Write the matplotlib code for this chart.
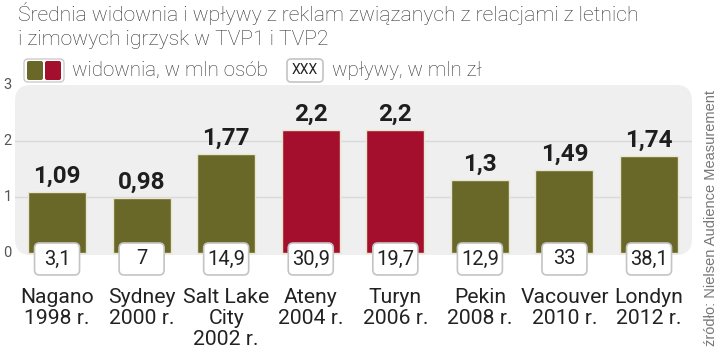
import numpy as np
import matplotlib.pyplot as plt
from matplotlib.patches import FancyBboxPatch
from matplotlib.transforms import ScaledTranslation

plt.rcParams['font.family'] = ['Roboto', 'DejaVu Sans']

categories = ['Nagano\n1998 r.', 'Sydney\n2000 r.', 'Salt Lake\nCity\n2002 r.', 'Ateny\n2004 r.',
              'Turyn\n2006 r.', 'Pekin\n2008 r.', 'Vacouver\n2010 r.', 'Londyn\n2012 r.']
audience = [1.09, 0.98, 1.77, 2.2, 2.2, 1.3, 1.49, 1.74]
audience_labels = ['1,09', '0,98', '1,77', '2,2', '2,2', '1,3', '1,49', '1,74']
revenue_labels = ['3,1', '7', '14,9', '30,9', '19,7', '12,9', '33', '38,1']
highlight = ['Ateny\n2004 r.', 'Turyn\n2006 r.']

OLIVE = '#6a6829'
RED = '#a50f2e'
BG = '#efefef'

fig = plt.figure(figsize=(7.2, 3.53), dpi=100)
W, H = 720, 353


def px(x, y):
    # pixel position from top-left -> inches from bottom-left
    return x / 100, (H - y) / 100


ax = fig.add_axes([15 / W, (H - 255) / H, (692 - 15) / W, 170 / H])
ax.set_xlim(-0.497, 7.508)
ax.set_ylim(-0.036, 3.0)
ax.patch.set_visible(False)
for s in ax.spines.values():
    s.set_visible(False)
ax.set_xticks([])
ax.set_yticks([])

# rounded grey background
x0, y0 = px(15, 255)
bg = FancyBboxPatch((x0, y0), 6.77, 1.70, boxstyle='round,pad=0,rounding_size=0.16',
                    transform=fig.dpi_scale_trans, fc=BG, ec='none', zorder=0, clip_on=False)
ax.add_patch(bg)
for g in [1, 2]:
    ax.axhline(g, color='#d9d9d9', lw=1, zorder=1)

# y tick labels
for t in range(4):
    ax.text(-0.585, t, str(t), ha='center', va='center', fontsize=10.5,
            color='#555555', clip_on=False)

xs = np.arange(len(categories))
colors = [RED if c in highlight else OLIVE for c in categories]
ax.bar(xs, audience, width=0.686, color=colors, edgecolor='#e9e6cf', lw=1, zorder=2)

for x, v, lab in zip(xs, audience, audience_labels):
    ax.annotate(lab, (x, v), xytext=(0, 6.5), textcoords='offset points', ha='center',
                va='baseline', fontsize=17.5, fontweight='bold', color='#1e1e1e', zorder=4)

# revenue boxes with fixed size
for x, lab in zip(xs, revenue_labels):
    tr = fig.dpi_scale_trans + ScaledTranslation(x, 0, ax.transData)
    box = FancyBboxPatch((-0.225, -0.22), 0.45, 0.32, boxstyle='round,pad=0,rounding_size=0.05',
                         transform=tr, fc='white', ec='#c4c4c4', lw=1.2, zorder=5, clip_on=False)
    ax.add_patch(box)
    ax.text(0, -0.06, lab, transform=tr, ha='center', va='center', fontsize=14.5,
            color='#222222', zorder=6, clip_on=False)

# category labels
for x, c in zip(xs, categories):
    tr = fig.dpi_scale_trans + ScaledTranslation(x, 0, ax.transData)
    ax.text(0, -0.35, c, transform=tr, ha='center', va='top', fontsize=15.2,
            color='#222222', linespacing=1.12, clip_on=False)

# title
fig.text(18 / W, 1 - 21 / H, 'Średnia widownia i wpływy z reklam związanych z relacjami z letnich',
         ha='left', va='baseline', fontsize=15.2, fontweight='light', color='#333333')
fig.text(18 / W, 1 - 45 / H, 'i zimowych igrzysk w TVP1 i TVP2',
         ha='left', va='baseline', fontsize=15.2, fontweight='light', color='#333333')

# legend
lx, ly = px(24, 82)
fig.patches.append(FancyBboxPatch((lx, ly), 0.40, 0.23, boxstyle='round,pad=0,rounding_size=0.04',
                                  transform=fig.dpi_scale_trans, fc='white', ec='#cccccc', lw=1))
for i, col in enumerate([OLIVE, RED]):
    sx, sy = px(27 + i * 18, 80)
    fig.patches.append(FancyBboxPatch((sx, sy), 0.16, 0.19, boxstyle='round,pad=0,rounding_size=0.02',
                                      transform=fig.dpi_scale_trans, fc=col, ec='none'))
fig.text(72 / W, 1 - 76 / H, 'widownia, w mln osób', ha='left', va='baseline',
         fontsize=14.8, fontweight='light', color='#333333')
bx, by = px(287, 82)
fig.patches.append(FancyBboxPatch((bx, by), 0.36, 0.23, boxstyle='round,pad=0,rounding_size=0.04',
                                  transform=fig.dpi_scale_trans, fc='white', ec='#c4c4c4', lw=1.2))
fig.text(305 / W, 1 - 70.5 / H, 'XXX', ha='center', va='center', fontsize=10, color='#222222')
fig.text(332 / W, 1 - 76 / H, 'wpływy, w mln zł', ha='left', va='baseline',
         fontsize=14.8, fontweight='light', color='#333333')

# source
fig.text(711 / W, 1 - 346 / H, 'źródło: Nielsen Audience Measurement', rotation=90,
         ha='center', va='bottom', fontsize=10.5, color='#777777', family='Liberation Sans')

fig.savefig('out.png', dpi=100)
